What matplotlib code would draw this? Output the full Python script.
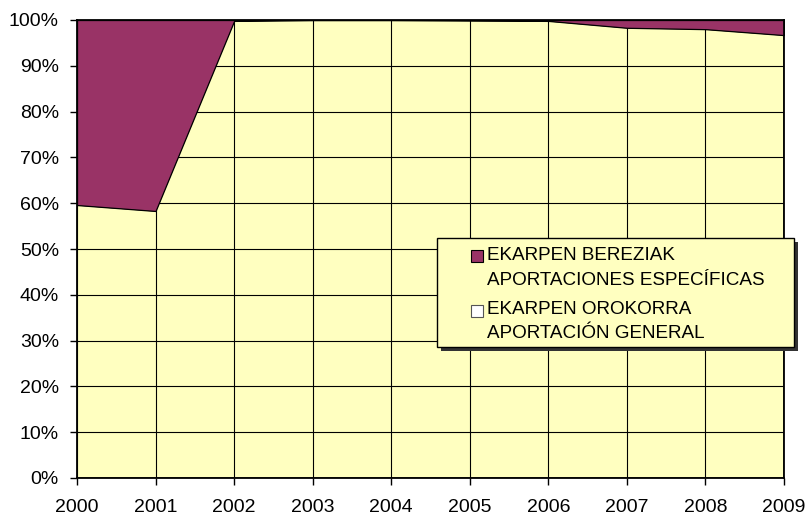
import numpy as np
import matplotlib.pyplot as plt
from matplotlib.patches import Rectangle
from matplotlib.ticker import PercentFormatter

# datos (porcentaje sobre el total)
years = [2000, 2001, 2002, 2003, 2004, 2005, 2006, 2007, 2008, 2009]
general = [59.6, 58.3, 99.8, 100.0, 100.0, 99.9, 99.8, 98.3, 98.0, 96.7]
especificas = [100 - v for v in general]

labels = [['EKARPEN BEREZIAK', 'APORTACIONES ESPECÍFICAS'],
          ['EKARPEN OROKORRA', 'APORTACIÓN GENERAL']]
col_gen = '#FFFFC0'
col_esp = '#993366'

plt.rcParams['font.family'] = ['Liberation Sans', 'DejaVu Sans']

W, H = 807, 515
fig = plt.figure(figsize=(W / 100, H / 100), dpi=100)
ax = fig.add_axes([77 / W, 1 - 478 / H, 707 / W, 458 / H])
ax.set_facecolor(col_gen)


def px(x, y):
    # pixeles (desde arriba a la izquierda) -> coordenadas de figura
    return x / W, 1 - y / H


polys = ax.stackplot(years, general, especificas, colors=[col_gen, col_esp],
                     edgecolor='black', linewidth=0.9)
polys[0].set_facecolor('none')
polys[1].set_zorder(2)

ax.set_xlim(2000, 2009)
ax.set_ylim(0, 100)
ax.set_xticks(years)
ax.set_yticks(np.arange(0, 101, 10))
ax.yaxis.set_major_formatter(PercentFormatter(decimals=0))
ax.set_axisbelow(True)
ax.grid(True, color='black', linewidth=0.8)
ax.tick_params(labelsize=14, length=5, width=1, color='black')
ax.tick_params(axis='x', pad=10)
ax.tick_params(axis='y', pad=8)
for s in ax.spines.values():
    s.set_linewidth(1.3)
    s.set_zorder(3)

# leyenda dibujada a mano
x0, y0, x1, y1 = 437, 238, 794, 347
fig.patches.append(Rectangle(px(x0 + 4, y1 + 4), (x1 - x0) / W, (y1 - y0) / H,
                             transform=fig.transFigure, facecolor='#333333',
                             edgecolor='none', zorder=4))
fig.patches.append(Rectangle(px(x0, y1), (x1 - x0) / W, (y1 - y0) / H,
                             transform=fig.transFigure, facecolor=col_gen,
                             edgecolor='black', linewidth=1.0, zorder=5))
swatch_top = [250, 305]
baselines = [[260, 285], [314, 338]]
sw_cols = [col_esp, 'white']
sw_edges = ['black', '#555555']
for i in range(2):
    fig.patches.append(Rectangle(px(471, swatch_top[i] + 12), 12 / W, 12 / H,
                                 transform=fig.transFigure, facecolor=sw_cols[i],
                                 edgecolor=sw_edges[i], linewidth=0.8, zorder=6))
    for line, yb in zip(labels[i], baselines[i]):
        fig.text(*px(487, yb), line, fontsize=13.6, va='baseline', ha='left',
                 zorder=7)

fig.savefig('out.png', dpi=100)
